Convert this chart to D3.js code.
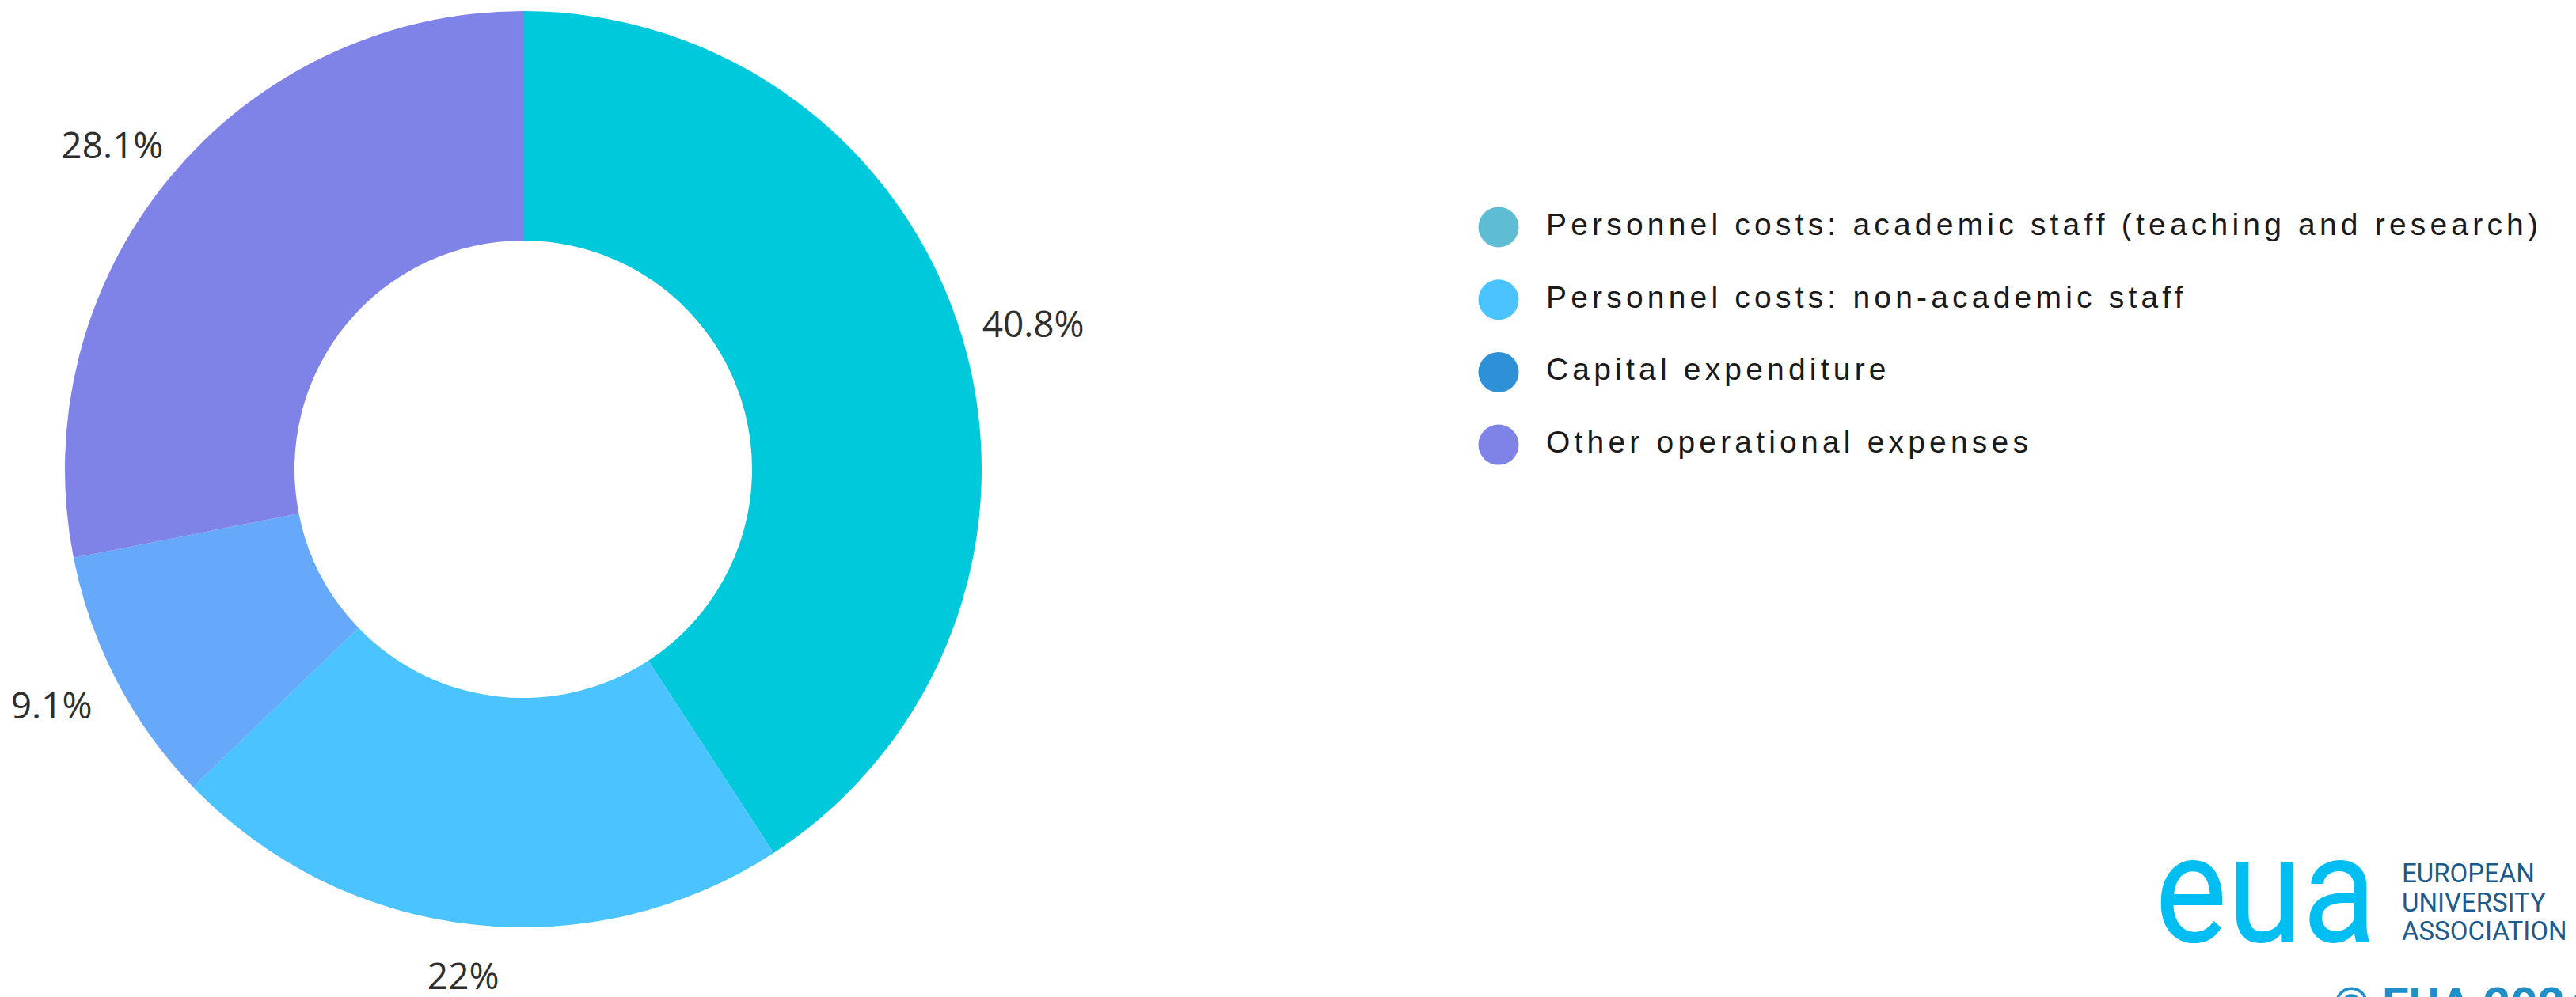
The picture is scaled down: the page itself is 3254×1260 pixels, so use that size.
<!DOCTYPE html>
<html>
<head>
<meta charset="utf-8">
<script src="https://cdn.jsdelivr.net/npm/d3@7"></script>
<style>
  html, body { margin: 0; padding: 0; background: #ffffff; }
  svg { display: block; }
</style>
</head>
<body>
<svg id="chart" width="3254" height="1260"></svg>
<script>
// ---- Data ----
const categories = [
  "Personnel costs: academic staff (teaching and research)",
  "Personnel costs: non-academic staff",
  "Capital expenditure",
  "Other operational expenses"
];
const values = [40.8, 22, 9.1, 28.1];
const labels = ["40.8%", "22%", "9.1%", "28.1%"];
const sliceColors = ["#00C9DC", "#4AC3FF", "#66A8FA", "#7F83E8"];
const legendColors = ["#5FBDD3", "#4AC3FF", "#2E90D6", "#7F83E8"];

// ---- Layout ----
const cx = 661, cy = 593;
const outerR = 579, innerR = 289;
const labelRx = 672, labelRy = 645;

const svg = d3.select("#chart");

const pie = d3.pie().sort(null).value(d => d.value)
  .startAngle(0).endAngle(2 * Math.PI);
const data = pie(values.map((v, i) => ({ value: v, label: labels[i], color: sliceColors[i] })));

const arc = d3.arc().innerRadius(innerR).outerRadius(outerR);

const g = svg.append("g").attr("transform", `translate(${cx},${cy})`);

g.selectAll("path.slice")
  .data(data)
  .enter().append("path")
  .attr("class", "slice")
  .attr("d", arc)
  .attr("fill", d => d.data.color);

function labelPos(d) {
  const a = (d.startAngle + d.endAngle) / 2;
  return [labelRx * Math.sin(a), -labelRy * Math.cos(a)];
}

g.selectAll("text.lbl")
  .data(data)
  .enter().append("text")
  .attr("class", "lbl")
  .attr("transform", d => `translate(${labelPos(d)})`)
  .attr("text-anchor", "middle")
  .attr("dy", "0.36em")
  .style("font-family", "'Open Sans', 'Noto Sans', sans-serif")
  .style("font-size", "46px")
  .style("fill", "#2e2e2e")
  .text(d => d.data.label);

// ---- Legend ----
const legendX = 1893, legendY0 = 287, legendStep = 91.7, dotR = 25.5;
const textX = 1953, targetWidth = 1253;

const legend = svg.append("g");
const items = legend.selectAll("g.item")
  .data(categories)
  .enter().append("g")
  .attr("class", "item")
  .attr("transform", (d, i) => `translate(0,${legendY0 + i * legendStep})`);

items.append("circle")
  .attr("cx", legendX)
  .attr("cy", 0)
  .attr("r", dotR)
  .attr("fill", (d, i) => legendColors[i]);

const legendTexts = items.append("text")
  .attr("x", textX)
  .attr("y", 10)
  .style("font-family", "'Liberation Sans', Arial, sans-serif")
  .style("font-size", "39px")
  .style("fill", "#1a1a1a")
  .text(d => d);

const first = legendTexts.nodes()[0];
const w0 = first.getComputedTextLength();
const ls = Math.max(0, (targetWidth - w0) / (categories[0].length - 1));
legendTexts.style("letter-spacing", ls + "px");

// ---- Logo ----
const logo = svg.append("g");
logo.append("text")
  .attr("x", 2722)
  .attr("y", 1190)
  .attr("textLength", 280)
  .attr("lengthAdjust", "spacingAndGlyphs")
  .style("font-family", "Roboto, 'Open Sans', sans-serif")
  .style("font-weight", "400")
  .style("font-size", "192px")
  .style("fill", "#00BEF2")
  .text("eua");

const logoLines = ["EUROPEAN", "UNIVERSITY", "ASSOCIATION"];
logo.selectAll("text.ll")
  .data(logoLines)
  .enter().append("text")
  .attr("class", "ll")
  .attr("x", 3034)
  .attr("y", (d, i) => 1115 + i * 36.5)
  .style("font-family", "Roboto, sans-serif")
  .style("font-size", "33px")
  .style("fill", "#1B5A8C")
  .text(d => d);

logo.append("text")
  .attr("x", 2947)
  .attr("y", 1290)
  .style("font-family", "Roboto, sans-serif")
  .style("font-weight", "700")
  .style("font-size", "60px")
  .style("fill", "#1E8FC8")
  .text("© EUA 2024");
</script>
</body>
</html>
